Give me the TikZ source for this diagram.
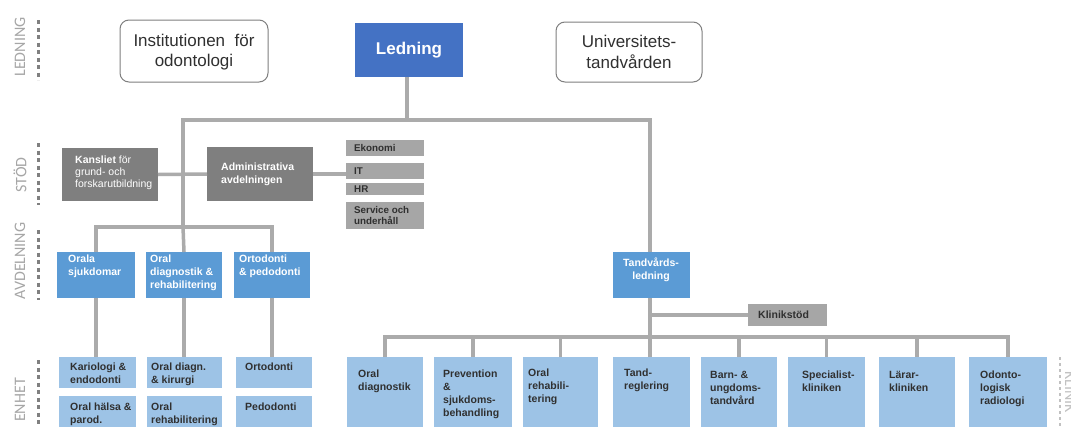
\documentclass[tikz,border=0pt]{standalone}
\usepackage{fontspec}
\setmainfont{Liberation Sans}
\setsansfont{Liberation Sans}
\newfontfamily\labfont{Carlito}
\definecolor{ledblue}{HTML}{4472C4}
\definecolor{avdblue}{HTML}{5B9BD5}
\definecolor{enhblue}{HTML}{9DC3E6}
\definecolor{dgray}{HTML}{7F7F7F}
\definecolor{lgray}{HTML}{A6A6A6}
\definecolor{linegray}{HTML}{ABABAB}
\definecolor{labgray}{HTML}{A6A6A6}
\definecolor{dashgray}{HTML}{808080}
\definecolor{txtdark}{HTML}{303030}
\begin{document}
\begin{tikzpicture}[x=1pt,y=-1pt,
  conn/.style={draw=linegray,line width=3.5pt,line join=miter},
  bxs/.style={anchor=north west,inner sep=0pt,outer sep=0pt,draw=none},
  rbox/.style={anchor=north west,inner sep=0pt,outer sep=0pt,draw=dgray,line width=1pt,rounded corners=9pt,fill=white},
  btxt/.style={inner sep=0pt,align=left,font=\bfseries\fontsize{10.5}{12.8}\selectfont},
  wtxt/.style={btxt,text=white},
  dtxt/.style={btxt,text=txtdark},
  stxt/.style={dtxt,anchor=west,font=\bfseries\fontsize{9.8}{11.5}\selectfont},
  head/.style={inner sep=0pt,align=center,font=\fontsize{17}{20.5}\selectfont,text=txtdark},
  lvl/.style={inner sep=0pt,rotate=90,text=labgray,font=\labfont\fontsize{16}{16}\selectfont},
  lvldash/.style={draw=dashgray,line width=3pt,dash pattern=on 4pt off 3.5pt},
]
\useasboundingbox (0,0) rectangle (1071,426);
\clip (0,0) rectangle (1071,426);

% ---------- level labels ----------
\node[lvl] (lLed) at (20,47) {LEDNING};
\node[lvl] (lStod) at (20,175) {STÖD};
\node[lvl] (lAvd) at (20,261) {AVDELNING};
\node[lvl] (lEnh) at (20,400) {ENHET};
\coordinate (d1a) at (38,20);  \coordinate (d1b) at (38,80);
\coordinate (d2a) at (38,143); \coordinate (d2b) at (38,205);
\coordinate (d3a) at (38,230); \coordinate (d3b) at (38,300);
\coordinate (d4a) at (38,360); \coordinate (d4b) at (38,430);
\draw[lvldash] (d1a) -- (d1b);
\draw[lvldash] (d2a) -- (d2b);
\draw[lvldash] (d3a) -- (d3b);
\draw[lvldash] (d4a) -- (d4b);
\node[inner sep=0pt,rotate=-90,anchor=south,text=labgray!70,font=\labfont\fontsize{16}{16}\selectfont] (lKlin) at (1065,392) {KLINIK};
\coordinate (d5a) at (1060,357); \coordinate (d5b) at (1060,430);
\draw[draw=labgray!70,line width=1.5pt,dash pattern=on 3pt off 3pt] (d5a) -- (d5b);

% ---------- boxes ----------
\node[rbox,minimum width=148pt,minimum height=62pt] (inst) at (120,20) {};
\node[bxs,fill=ledblue,minimum width=108pt,minimum height=54pt] (led) at (355,23) {};
\node[rbox,minimum width=146pt,minimum height=60pt] (univ) at (556,22) {};

\node[bxs,fill=dgray,minimum width=96pt,minimum height=53pt] (kan) at (62,148) {};
\node[bxs,fill=dgray,minimum width=106pt,minimum height=54pt] (adm) at (207,147) {};
\node[bxs,fill=lgray,minimum width=78pt,minimum height=16pt] (eko) at (346,140) {};
\node[bxs,fill=lgray,minimum width=78pt,minimum height=16pt] (it) at (346,163) {};
\node[bxs,fill=lgray,minimum width=78pt,minimum height=12pt] (hr) at (346,183) {};
\node[bxs,fill=lgray,minimum width=78pt,minimum height=27pt] (serv) at (346,202) {};

\node[bxs,fill=avdblue,minimum width=78pt,minimum height=46pt] (avd1) at (57,252) {};
\node[bxs,fill=avdblue,minimum width=76pt,minimum height=46pt] (avd2) at (146,252) {};
\node[bxs,fill=avdblue,minimum width=76pt,minimum height=46pt] (avd3) at (234,252) {};
\node[bxs,fill=avdblue,minimum width=77pt,minimum height=46pt] (tand) at (613,252) {};
\node[bxs,fill=lgray,minimum width=79pt,minimum height=22pt] (klin) at (748,304) {};

\node[bxs,fill=enhblue,minimum width=77pt,minimum height=31pt] (e1) at (59,357) {};
\node[bxs,fill=enhblue,minimum width=75pt,minimum height=31pt] (e2) at (147,357) {};
\node[bxs,fill=enhblue,minimum width=76pt,minimum height=31pt] (e3) at (236,357) {};
\node[bxs,fill=enhblue,minimum width=77pt,minimum height=40pt] (e4) at (59,396) {};
\node[bxs,fill=enhblue,minimum width=75pt,minimum height=40pt] (e5) at (147,396) {};
\node[bxs,fill=enhblue,minimum width=76pt,minimum height=40pt] (e6) at (236,396) {};

\node[bxs,fill=enhblue,minimum width=76pt,minimum height=80pt] (k1) at (347,357) {};
\node[bxs,fill=enhblue,minimum width=78pt,minimum height=80pt] (k2) at (434,357) {};
\node[bxs,fill=enhblue,minimum width=75pt,minimum height=80pt] (k3) at (523,357) {};
\node[bxs,fill=enhblue,minimum width=77pt,minimum height=80pt] (k4) at (613,357) {};
\node[bxs,fill=enhblue,minimum width=76pt,minimum height=80pt] (k5) at (701,357) {};
\node[bxs,fill=enhblue,minimum width=77pt,minimum height=80pt] (k6) at (788,357) {};
\node[bxs,fill=enhblue,minimum width=76pt,minimum height=80pt] (k7) at (879,357) {};
\node[bxs,fill=enhblue,minimum width=78pt,minimum height=80pt] (k8) at (969,357) {};

% ---------- connectors ----------
\coordinate (busL) at (183,120);
\coordinate (busR) at (650,120);
\coordinate (ledbus) at (407,120);
\coordinate (avdbus) at (183,227);
\coordinate (klinbus) at (650,337);
\draw[conn] (led.south -| ledbus) -- (ledbus);
\draw[conn] (avdbus) -- (busL) -- (busR) -- (busR |- tand.north);
\draw[conn] (avd1.north) -- (avd1.north |- avdbus) -- (avd3.north |- avdbus) -- (avd3.north);
\draw[conn] (avd2.north) -- (avdbus);
\draw[conn] (kan.east) -- (adm.west);
\draw[conn] (adm.east) -- (adm.east -| it.west);
\draw[conn] (avd1.south) -- (avd1.south |- e1.north);
\draw[conn] (avd2.south) -- (avd2.south |- e2.north);
\draw[conn] (avd3.south) -- (avd3.south |- e3.north);
\draw[conn] (tand.south -| busR) -- (klinbus);
\draw[conn] (klin.west -| busR) -- (klin.west);
\draw[conn] (k1.north) -- (k1.north |- klinbus) -- (k8.north |- klinbus) -- (k8.north);
\draw[conn] (k2.north) -- (k2.north |- klinbus);
\draw[conn] (k3.north) -- (k3.north |- klinbus);
\draw[conn] (k4.north -| busR) -- (klinbus);
\draw[conn] (k5.north) -- (k5.north |- klinbus);
\draw[conn] (k6.north) -- (k6.north |- klinbus);
\draw[conn] (k7.north) -- (k7.north |- klinbus);

% ---------- texts ----------
\node[head] (instT) at (194,52) {Institutionen\ \ för\\odontologi};
\node[head,text=white,font=\bfseries\fontsize{17}{20}\selectfont] (ledT) at (409,50) {Ledning};
\node[head] (univT) at (629,52) {Universitets-\\tandvården};

\node[btxt,text=white,anchor=west,font=\fontsize{10.5}{12}\selectfont] (kanT) at ([shift={(13,-2)}]kan.west) {\textbf{Kansliet} för\\grund- och\\forskarutbildning};
\node[wtxt,anchor=west] (admT) at ([shift={(14,0)}]adm.west) {Administrativa\\avdelningen};
\node[stxt] (ekoT) at ([shift={(8,0)}]eko.west) {Ekonomi};
\node[stxt] (itT) at ([shift={(8,0)}]it.west) {IT};
\node[stxt] (hrT) at ([shift={(8,0)}]hr.west) {HR};
\node[stxt] (servT) at ([shift={(8,0)}]serv.west) {Service och\\underhåll};

\node[wtxt,anchor=north west] (avd1T) at (68,255) {Orala\\sjukdomar};
\node[wtxt,anchor=north west] (avd2T) at (150,255) {Oral\\diagnostik \&\\rehabilitering};
\node[wtxt,anchor=north west] (avd3T) at (239,255) {Ortodonti\\\& pedodonti};
\node[wtxt,align=center] (tandT) at (651,270) {Tandvårds-\\ledning};
\node[dtxt,anchor=west] (klinT) at ([shift={(10,0)}]klin.west) {Klinikstöd};

\node[dtxt,anchor=north west] (e1T) at (70,363) {Kariologi \&\\endodonti};
\node[dtxt,anchor=north west] (e2T) at (151,363) {Oral diagn.\\\& kirurgi};
\node[dtxt,anchor=north west] (e3T) at (245,363) {Ortodonti};
\node[dtxt,anchor=north west] (e4T) at (70,403) {Oral hälsa \&\\parod.};
\node[dtxt,anchor=north west] (e5T) at (151,403) {Oral\\rehabilitering};
\node[dtxt,anchor=north west] (e6T) at (245,403) {Pedodonti};

\node[dtxt,anchor=north west] (k1T) at (358,370) {Oral\\diagnostik};
\node[dtxt,anchor=north west] (k2T) at (443,370) {Prevention\\\&\\sjukdoms-\\behandling};
\node[dtxt,anchor=north west] (k3T) at (528,369) {Oral\\rehabili-\\tering};
\node[dtxt,anchor=north west] (k4T) at (624,369) {Tand-\\reglering};
\node[dtxt,anchor=north west] (k5T) at (710,371) {Barn- \&\\ungdoms-\\tandvård};
\node[dtxt,anchor=north west] (k6T) at (802,371) {Specialist-\\kliniken};
\node[dtxt,anchor=north west] (k7T) at (889,371) {Lärar-\\kliniken};
\node[dtxt,anchor=north west] (k8T) at (980,371) {Odonto-\\logisk\\radiologi};
\end{tikzpicture}
\end{document}
